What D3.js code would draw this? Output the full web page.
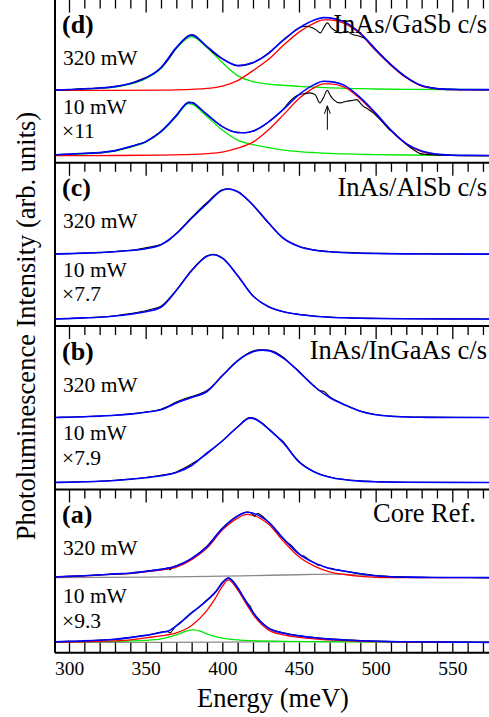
<!DOCTYPE html>
<html>
<head>
<meta charset="utf-8">
<script src="https://cdn.jsdelivr.net/npm/d3@7"></script>
<style>
  body { margin: 0; background: #fff; }
</style>
</head>
<body>
<script>
'use strict';

// ---- data (energy in meV, intensity in arb. units above each baseline) ----

const energyTicks = d3.range(300, 571, 10);
const tickLabels = [300, 350, 400, 450, 500, 550];
const panelIds = ["(d)", "(c)", "(b)", "(a)"];
const panelTitles = ["InAs/GaSb c/s", "InAs/AlSb c/s", "InAs/InGaAs c/s", "Core Ref."];
const powerLabels = ["320 mW", "10 mW"];
const lowFactors = ["\u00d711", "\u00d77.7", "\u00d77.9", "\u00d79.3"];
// stacking offsets of the 320 mW and 10 mW spectra, per panel
const stackOffsets = [[72.7, 7.2], [72.1, 7.1], [71.9, 6.9], [75.1, 10.3]];
const arrowMark = [468.5, 33, 57]; // energy, tail, head (panel d)

// (d) InAs/GaSb c/s, 320 mW
const dHiData = [[290,0.1],[295,0.4],[300,0.5],[305,1.0],[310,1.5],[315,1.6],[320,2.3],[325,2.7],[330,3.8],[335,4.6],[340,6.8],[345,9.6],[350,12.6],[355,16.2],[360,22.3],[365,31],[370,42.3],[375,51],[378,54.5],[381,55.3],[385,50.8],[390,43.3],[395,36.2],[400,31],[405,27.2],[410,24.3],[415,25],[420,27.2],[425,31.5],[430,36.8],[435,43.5],[440,50],[444,55],[448,60.5],[452,63.5],[455,63.8],[459,62.2],[461,60.5],[464,57.2],[466,62],[468.5,67.2],[471,62.5],[474,59],[477,57.2],[481,58.8],[485,55.5],[490,53.6],[494,50.5],[498,44.5],[502,37.5],[506,31.5],[510,25.5],[515,18.5],[520,12.8],[525,8],[530,4.6],[535,2.8],[540,1.6],[550,0.9],[560,0.6],[570,0.5],[580,0.5]];
const dHiFit = [[290,0.2],[300,0.6],[310,1.3],[320,2.1],[330,3.5],[340,6.5],[350,12],[360,22.5],[370,42.5],[380,55],[390,43.5],[400,31.5],[410,24.5],[420,27.5],[430,36.5],[440,50.5],[450,62],[460,70],[466,72.5],[470,72.2],[480,68],[490,57],[500,40.5],[510,25.5],[520,13],[530,4.5],[540,1.5],[550,0.7],[560,0.5],[580,0.5]];
const dHiPeak1 = [[290,0],[300,0.3],[310,0.9],[320,1.7],[330,3],[340,6],[350,11.5],[360,21.5],[370,41.5],[380,53.5],[390,42.5],[400,27.5],[410,14.5],[420,8.5],[430,6],[440,4.8],[450,3.7],[460,2.9],[470,2.3],[480,1.8],[490,1.4],[500,1.1],[520,0.8],[550,0.6],[580,0.5]];
const dHiPeak2 = [[290,-0.2],[330,-0.2],[360,0],[370,0.3],[380,0.8],[390,1.7],[400,4],[410,9.5],[420,19.5],[430,30.5],[440,45],[450,58],[460,67],[466,70.3],[470,70.2],[480,66.5],[490,56],[500,39.5],[510,24.7],[520,12.3],[530,4],[540,1.3],[550,0.4],[560,0.2],[580,0.2]];

// (d) 10 mW
const dLoData = [[290,0.6],[295,1.2],[300,1.3],[305,2.0],[310,2.1],[315,2.9],[320,2.8],[325,4.1],[330,4.8],[335,7],[340,8.6],[345,11.5],[350,13.6],[355,18.8],[360,24.5],[365,31.5],[370,40.5],[375,50],[378,53.6],[381,53],[385,47.5],[390,41.5],[395,34.5],[400,29],[405,25.2],[410,23.3],[415,23],[420,24.3],[425,28],[430,33.2],[435,39.5],[440,46.8],[444,54.3],[447,58.5],[450.5,61],[454,62],[457,62.7],[460.5,61],[463.7,52.7],[466,58],[468.5,65.3],[470.5,60],[472.5,56],[476.8,52.7],[481,54.3],[484,55],[487.7,56],[490,52.5],[492,49.3],[495,46.5],[498.5,42.7],[502,37.5],[505,32.7],[508,27.5],[511.6,22.7],[515,18],[518,14.3],[521,10],[524.6,6],[527,3.5],[529,2],[533,1.2],[537.6,0.7],[545,0.3],[555,0.1],[570,0],[580,0]];
const dLoFit = [[290,0.8],[300,1.5],[310,2.2],[320,3],[330,5],[340,9],[350,14],[360,24],[370,40],[378,53],[380,52.8],[390,41],[400,29],[410,23],[415,22.8],[420,24.5],[430,33.5],[440,46.5],[450,61],[460,71],[466,74.3],[470,74],[480,70],[490,58],[500,42.5],[510,25.5],[520,12],[530,4.5],[540,1.5],[550,0.5],[560,0.2],[580,0]];
const dLoPeak1 = [[290,0.5],[300,1],[310,1.7],[320,2.5],[330,4.5],[340,8.5],[350,13.5],[360,23.5],[370,39],[378,52],[380,51.6],[390,39],[400,25.5],[410,15.5],[420,11],[430,8],[440,5.5],[450,4],[460,3],[470,2.2],[480,1.7],[490,1.3],[500,1],[520,0.6],[550,0.2],[580,0]];
const dLoPeak2 = [[290,0],[330,0.1],[360,0.4],[370,0.8],[380,1.2],[390,2],[400,3.5],[410,7.5],[420,13.5],[430,25.5],[440,41],[450,57],[460,68],[466,71.8],[470,71.8],[480,68.3],[490,56.7],[500,41.5],[510,24.8],[520,11.4],[530,4],[540,1.2],[550,0.3],[560,0],[580,0]];

// (c) InAs/AlSb c/s
const cHiData = [[290,0.1],[300,0.3],[310,1],[320,1.3],[330,2.5],[340,3.8],[345,4.8],[350,6.2],[355,7.6],[360,9.6],[365,13.5],[370,20.6],[380,36.5],[390,51.5],[400,64.2],[404,65.3],[410,62.5],[420,48.7],[430,31],[440,15.6],[450,7.8],[460,4.1],[470,2.4],[480,1.6],[490,1.0],[500,0.7],[520,0.3],[540,0.1],[580,0]];
const cHiFit = [[290,0],[300,0.4],[310,0.9],[320,1.5],[330,2.3],[340,3.5],[350,5.3],[360,9.3],[370,20.3],[380,35.8],[390,50.3],[400,63.8],[404,65],[410,62.3],[420,49],[430,31.5],[440,15.5],[450,7.5],[460,3.8],[470,2.2],[480,1.3],[490,0.8],[500,0.5],[520,0.1],[540,0],[580,-0.2]];
const cLoData = [[290,0.2],[300,0.4],[310,1.2],[320,2],[330,3.3],[340,5.4],[345,6.8],[350,8.2],[355,10.2],[360,12.8],[370,29],[380,48.8],[390,63.2],[394,64.8],[400,61.2],[410,43.6],[420,23.3],[430,12.3],[440,7.2],[450,4.6],[460,3],[470,2],[480,1.3],[490,0.9],[500,0.6],[520,0.3],[550,0.1],[580,0]];
const cLoFit = [[290,0],[300,0.5],[310,1.1],[320,1.8],[330,3],[340,4.8],[350,7.3],[360,11.8],[370,28.5],[380,48.3],[390,62.8],[394,64.3],[400,60.8],[410,43.3],[420,23],[430,12.5],[440,7.3],[450,4.5],[460,2.8],[470,1.8],[480,1.2],[490,0.8],[500,0.5],[520,0.2],[550,0],[580,0]];

// (b) InAs/InGaAs c/s
const bHiData = [[290,0],[300,0.4],[310,0.9],[320,1.5],[330,2.3],[340,3.6],[350,5.5],[360,8.3],[365,11.5],[370,15.5],[375,18.5],[380,21],[385,23.5],[390,27],[400,42],[410,57],[420,66.5],[424,67.8],[430,67.5],[440,60],[445,53],[450,46.3],[455,38.5],[460,31.5],[463,27],[466,26.2],[470,20.7],[480,12.8],[490,6.5],[500,3],[510,1.4],[520,0.7],[530,0.4],[550,0.2],[580,0]];
const bHiFit = [[290,0],[300,0.3],[310,0.8],[320,1.4],[330,2.2],[340,3.4],[350,5.2],[360,7.7],[370,14.5],[380,20],[390,26],[400,41.7],[410,56.7],[420,65.7],[426,67.4],[430,66.9],[440,59.2],[450,45.7],[460,31],[470,20],[480,12.5],[490,6.2],[500,2.7],[510,1.2],[520,0.5],[530,0.2],[550,0],[580,0]];
const bLoData = [[290,0.1],[300,0.4],[310,0.8],[320,1.3],[330,2.2],[340,3.4],[350,5],[360,7.2],[370,10.6],[375,14.2],[380,18.6],[385,23.3],[390,28.8],[400,41.6],[410,55.8],[418,65],[420,64.6],[430,54.2],[435,47],[440,40.5],[445,29.8],[450,21],[460,10.8],[470,5.5],[480,3.0],[490,1.6],[500,0.9],[510,0.5],[520,0.3],[550,0.1],[580,0]];
const bLoFit = [[290,0],[300,0.3],[310,0.7],[320,1.2],[330,2],[340,3.2],[350,4.7],[360,6.7],[370,10],[380,17],[390,29.5],[400,41.5],[410,55.5],[418,64.4],[420,64.1],[430,53.7],[440,39.2],[450,20.5],[460,10.5],[470,5.3],[480,2.8],[490,1.4],[500,0.7],[510,0.4],[520,0.2],[550,0],[580,0]];

// (a) Core Ref.
const aHiData = [[290,0.6],[300,1.3],[310,1.8],[320,2.8],[330,3.6],[340,4.6],[350,6.4],[360,8.4],[365,9.6],[366,7.8],[367,10],[370,11.8],[375,15],[380,19.4],[390,31.5],[400,49.5],[410,61.8],[416,65.6],[419,64.8],[421,61.5],[423,64],[430,55.7],[440,38.5],[443,34.3],[444,33.5],[446,30.5],[450,24],[452,21.5],[453,21.9],[455,19.5],[460,14.8],[463,12.3],[464,12.6],[466,11],[469,9.5],[471,9.2],[475,7.7],[480,6.5],[490,4],[500,2.1],[510,1],[520,0.6],[530,0.3],[540,0.1],[580,0]];
const aHiFit = [[290,0.7],[300,1.2],[310,1.9],[320,2.7],[330,3.7],[340,4.4],[350,6.2],[360,8.2],[370,11.5],[380,19],[390,31],[400,49],[410,61.5],[416,65.4],[420,64.4],[430,55.7],[440,38.7],[450,23.7],[460,14.7],[470,9.2],[480,6.4],[490,3.9],[500,1.9],[510,0.9],[520,0.5],[530,0.2],[540,0.1],[580,0]];
const aHiPeak = [[290,0.7],[300,1.1],[310,1.8],[320,2.5],[330,3.4],[340,4],[350,5.7],[360,7.5],[370,10.5],[380,18],[390,29.5],[400,47.5],[410,59.5],[416,63.3],[420,62.3],[430,53.5],[440,36.1],[450,20.8],[460,11.5],[470,5.8],[480,3.1],[490,1.3],[500,0.3],[510,0],[580,0]];
const aHiBackground = [[290,0],[320,0.2],[350,0.5],[380,1],[400,1.5],[420,2],[440,2.6],[460,3.2],[470,3.4],[480,3.3],[490,2.6],[500,1.6],[510,0.9],[520,0.5],[530,0.3],[540,0.1],[560,0],[580,0]];
const aLoData = [[290,0.6],[300,1.1],[310,1.4],[320,2.4],[330,3.1],[340,5],[350,7.2],[360,10.2],[364,11.2],[366,9.5],[368,13],[370,16.8],[375,23],[380,30],[385,35.5],[390,42.5],[396,51.5],[400,60],[404,64.5],[410,55],[414,44.5],[416,40],[418,36.5],[420,30.5],[425,21],[430,14.6],[440,9.5],[450,6.7],[460,4.9],[470,3.5],[480,2.5],[490,1.8],[500,1.3],[510,0.9],[520,0.6],[550,0.3],[580,0.1]];
const aLoFit = [[290,0.5],[300,1],[310,1.5],[320,2.2],[330,3.2],[340,4.8],[350,7],[360,10],[365,11.5],[370,16.5],[380,29.5],[390,42],[396,51],[400,59.5],[404,64.2],[410,54.5],[416,39.5],[420,30],[430,14.3],[440,9.2],[450,6.5],[460,4.7],[470,3.3],[480,2.4],[490,1.7],[500,1.2],[510,0.8],[520,0.6],[550,0.3],[580,0]];
const aLoPeak1 = [[290,0.5],[330,1],[350,2],[360,3.5],[370,7.5],[376,11],[381,12.5],[386,11],[390,8.5],[396,5.5],[402,3.8],[410,2.5],[420,1.7],[440,1.1],[470,0.6],[520,0.3],[580,0.1]];
const aLoPeak2 = [[290,0.2],[320,1],[340,2.5],[350,4.5],[360,6.5],[370,9.5],[380,17],[390,32],[395,43],[400,56],[404,62.5],[410,52.5],[416,37.5],[420,28],[430,12.5],[440,7.5],[450,5],[460,3.5],[470,2.5],[480,1.7],[490,1.1],[500,0.7],[520,0.2],[550,0],[580,0]];
const aLoBackground = [[290,0],[400,0.3],[460,0.8],[480,1],[500,0.8],[530,0.3],[580,0]];

// ---- layout ----
const width = 489, height = 717;
const left = 55, right = 495;
const panelH = 163.3, firstTop = -0.5;
const fontFamily = "'Liberation Serif', 'Times New Roman', Times, serif";

const colors = { data: "#000", fit: "#0000ff", peak1: "#00e800", peak2: "#ff0000", bg: "#8a8a8a" };

// curve sets for each panel: [320 mW, 10 mW]
const panelCurves = [
  [{ peak1: dHiPeak1, peak2: dHiPeak2, data: dHiData, fit: dHiFit },
   { peak1: dLoPeak1, peak2: dLoPeak2, data: dLoData, fit: dLoFit }],
  [{ data: cHiData, fit: cHiFit }, { data: cLoData, fit: cLoFit }],
  [{ data: bHiData, fit: bHiFit }, { data: bLoData, fit: bLoFit }],
  [{ bg: aHiBackground, peak2: aHiPeak, data: aHiData, fit: aHiFit },
   { bg: aLoBackground, peak1: aLoPeak1, peak2: aLoPeak2, data: aLoData, fit: aLoFit }]
];

const svg = d3.select("body").append("svg")
    .attr("width", width)
    .attr("height", height)
    .style("font-family", fontFamily);

svg.append("rect").attr("width", width).attr("height", height).attr("fill", "#fff");

svg.append("defs").append("clipPath").attr("id", "plotclip")
  .append("rect")
    .attr("x", left + 1).attr("y", 0)
    .attr("width", right - left).attr("height", height);

let x = d3.scaleLinear().domain([300, 550]).range([69, 452.3]);
let majorTicks = energyTicks.filter(function(d) { return d % 50 === 0; });
let minorTicks = energyTicks.filter(function(d) { return d % 50 !== 0; });

panelIds.forEach(function(id, i) {
    let top = firstTop + i * panelH;
    let y = d3.scaleLinear().domain([0, panelH]).range([top + panelH, top]);
    let g = svg.append("g").attr("class", "panel");

    // curves
    let curves = g.append("g").attr("clip-path", "url(#plotclip)");
    panelCurves[i].forEach(function(set, k) {
        let off = stackOffsets[i][k];
        let line = d3.line()
            .x(function(d) { return x(d[0]); })
            .y(function(d) { return y(d[1] + off); })
            .curve(d3.curveMonotoneX);
        ["bg", "peak1", "peak2", "data", "fit"].forEach(function(key) {
            if (!set[key]) return;
            curves.append("path")
                .attr("d", line(set[key]))
                .attr("fill", "none")
                .attr("stroke", colors[key])
                .attr("stroke-width", key === "fit" ? 1.6 : (key === "data" ? 1.1 : 1.3))
                .attr("stroke-linejoin", "round");
        });
    });

    // inward ticks along the top edge
    g.append("g")
        .attr("transform", "translate(0," + top + ")")
        .call(d3.axisTop(x).tickValues(minorTicks).tickSize(-9).tickFormat(""))
        .call(function(a) { a.select(".domain").remove(); })
        .selectAll("line").attr("stroke-width", 1.3);
    g.append("g")
        .attr("transform", "translate(0," + top + ")")
        .call(d3.axisTop(x).tickValues(majorTicks).tickSize(-13).tickFormat(""))
        .call(function(a) { a.select(".domain").remove(); })
        .selectAll("line").attr("stroke-width", 1.3);

    // frame: top (not for the first panel, it is cut off) + left
    let frame = i === 0
        ? "M" + left + "," + top + "V" + (top + panelH)
        : "M" + right + "," + top + "H" + left + "V" + (top + panelH);
    g.append("path")
        .attr("d", frame)
        .attr("fill", "none").attr("stroke", "#000").attr("stroke-width", 2);

    // labels
    g.append("text").attr("x", 62).attr("y", top + 33.5)
        .style("font-size", "26px").style("font-weight", "bold").text(id);
    g.append("text").attr("x", i === 3 ? 476 : 487).attr("y", top + 33)
        .attr("text-anchor", "end").style("font-size", "26.5px").text(panelTitles[i]);
    g.append("text").attr("x", 63).attr("y", top + 65.5)
        .style("font-size", "21.5px").text(powerLabels[0]);
    g.append("text").attr("x", 63).attr("y", top + 114)
        .style("font-size", "21.5px").text(powerLabels[1]);
    g.append("text").attr("x", 62).attr("y", top + 138.5)
        .style("font-size", "21.5px").text(lowFactors[i]);

    if (i === 0) {
        // arrow marking the dip in the 10 mW spectrum
        let ax = x(arrowMark[0]), y0 = y(arrowMark[1]), y1 = y(arrowMark[2]);
        g.append("path")
            .attr("d", "M" + ax + "," + y0 + "V" + y1 + "M" + (ax - 3) + "," + (y1 + 8) + "L" + ax + "," + y1 + "L" + (ax + 3) + "," + (y1 + 8))
            .attr("fill", "none").attr("stroke", "#000").attr("stroke-width", 1);
    }
});

// bottom axis
let bottom = firstTop + 4 * panelH;
svg.append("path")
    .attr("d", "M" + left + "," + bottom + "H" + right)
    .attr("stroke", "#000").attr("stroke-width", 2);

let bottomAxis = svg.append("g")
    .attr("transform", "translate(0," + bottom + ")")
    .call(d3.axisBottom(x).tickValues(energyTicks).tickSize(-10).tickPadding(8)
        .tickFormat(function(d) { return tickLabels.indexOf(d) >= 0 ? d : ""; }));
bottomAxis.select(".domain").remove();
bottomAxis.selectAll("line").attr("stroke-width", 1.3);
bottomAxis.selectAll("text")
    .style("font-family", fontFamily)
    .style("font-size", "19.5px")
    .attr("fill", "#000");

// axis titles
svg.append("text")
    .attr("x", 273).attr("y", 706.5)
    .attr("text-anchor", "middle")
    .style("font-size", "26.5px")
    .text("Energy (meV)");

svg.append("text")
    .attr("transform", "translate(35,326) rotate(-90)")
    .attr("text-anchor", "middle")
    .style("font-size", "26.5px")
    .text("Photoluminescence Intensity (arb. units)");
</script>
</body>
</html>
